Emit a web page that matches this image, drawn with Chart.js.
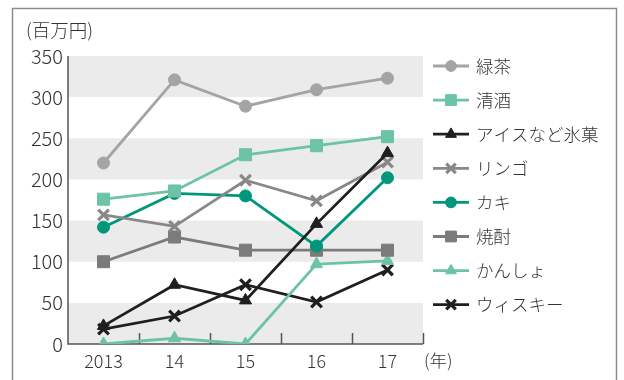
<!DOCTYPE html>
<html>
<head>
<meta charset="utf-8">
<script src="https://cdn.jsdelivr.net/npm/chart.js@4"></script>
<style>
  html, body { margin: 0; padding: 0; background: #fff; }
  #wrap { width: 624px; height: 380px; }
</style>
</head>
<body>
<div id="wrap"><canvas id="salesChart" width="624" height="380"></canvas></div>
<script>
const years = ['2013', '14', '15', '16', '17'];
const yTicks = [0, 50, 100, 150, 200, 250, 300, 350];

const greenTea = [220, 321, 289, 309, 323];
const sake = [176, 186, 230, 241, 252];
const iceCream = [22, 72, 53, 146, 232];
const apple = [157, 143, 199, 174, 221];
const persimmon = [142, 183, 180, 119, 202];
const shochu = [100, 130, 114, 114, 114];
const sweetPotato = [0, 7, 0, 97, 101];
const whisky = [18, 34, 72, 51, 90];

const FONT = '"Noto Sans CJK JP", "Noto Sans", sans-serif';
const TEXT = '#333333';

function series(label, data, color, style, radius) {
    return {
        label: label,
        data: data,
        borderColor: color,
        backgroundColor: color,
        borderWidth: 2.8,
        pointStyle: style,
        pointRadius: radius,
        pointHoverRadius: radius,
        pointBorderWidth: style === 'crossRot' ? 3.2 : 1,
        pointBorderColor: color,
        tension: 0
    };
}

const datasets = [
    series('緑茶', greenTea, '#a4a4a4', 'circle', 6),
    series('清酒', sake, '#6cc3a6', 'rect', 8.5),
    series('アイスなど氷菓', iceCream, '#1f1f1f', 'triangle', 7),
    series('リンゴ', apple, '#888888', 'crossRot', 7.5),
    series('カキ', persimmon, '#00977a', 'circle', 6),
    series('焼酎', shochu, '#7b7b7c', 'rect', 8.5),
    series('かんしょ', sweetPotato, '#6cc3a6', 'triangle', 7),
    series('ウィスキー', whisky, '#1f1f1f', 'crossRot', 7.5)
];

const decor = {
    id: 'decor',
    beforeDatasetsDraw(chart) {
        const ctx = chart.ctx;
        const y = chart.scales.y;
        const area = chart.chartArea;
        ctx.save();
        // frame
        ctx.strokeStyle = '#8c8c8c';
        ctx.lineWidth = 1.5;
        ctx.beginPath();
        ctx.moveTo(12.5, 390);
        ctx.lineTo(12.5, 8.5);
        ctx.lineTo(616.5, 8.5);
        ctx.lineTo(616.5, 390);
        ctx.stroke();
        // bands
        ctx.fillStyle = '#ebebeb';
        for (let i = 0; i < yTicks.length - 1; i += 2) {
            const top = y.getPixelForValue(yTicks[i + 1]);
            const bot = y.getPixelForValue(yTicks[i]);
            ctx.fillRect(area.left, top, area.right - area.left, bot - top);
        }
        // axes
        ctx.strokeStyle = '#555555';
        ctx.lineWidth = 1.5;
        ctx.beginPath();
        ctx.moveTo(area.left, area.top);
        ctx.lineTo(area.left, area.bottom);
        ctx.lineTo(area.right, area.bottom);
        ctx.stroke();
        // inward tick marks between categories
        const step = (area.right - area.left) / years.length;
        ctx.beginPath();
        for (let i = 1; i <= years.length; i++) {
            const px = Math.round(area.left + step * i) + 0.5;
            ctx.moveTo(px, area.bottom);
            ctx.lineTo(px, area.bottom - 11);
        }
        ctx.stroke();
        // texts
        ctx.fillStyle = TEXT;
        ctx.font = '300 18.5px ' + FONT;
        ctx.textBaseline = 'middle';
        ctx.textAlign = 'left';
        ctx.fillText('(百万円)', 26, 30);
        ctx.font = '300 17.5px ' + FONT;
        ctx.fillText('(年)', area.right + 1, 360);
        ctx.restore();
    },
    afterDraw(chart) {
        const ctx = chart.ctx;
        ctx.save();
        chart.data.datasets.forEach((ds, i) => {
            const cy = 66 + i * 34.1;
            ctx.strokeStyle = ds.borderColor;
            ctx.lineWidth = 2.8;
            ctx.beginPath();
            ctx.moveTo(433, cy);
            ctx.lineTo(469, cy);
            ctx.stroke();
            ctx.fillStyle = ds.backgroundColor;
            ctx.lineWidth = ds.pointBorderWidth;
            Chart.helpers.drawPoint(ctx, {
                pointStyle: ds.pointStyle,
                radius: ds.pointRadius * 0.9,
                rotation: 0,
                borderWidth: ds.pointBorderWidth
            }, 451, cy);
            ctx.fillStyle = TEXT;
            ctx.font = '300 17.5px ' + FONT;
            ctx.textAlign = 'left';
            ctx.textBaseline = 'middle';
            ctx.fillText(ds.label, 476, cy);
        });
        ctx.restore();
    }
};

new Chart(document.getElementById('salesChart'), {
    type: 'line',
    data: { labels: years, datasets: datasets },
    options: {
        responsive: false,
        animation: false,
        layout: { padding: { top: 56, right: 201, left: 0, bottom: 0 } },
        plugins: {
            legend: { display: false },
            tooltip: { enabled: false }
        },
        scales: {
            x: {
                offset: true,
                grid: { display: false, drawTicks: false },
                border: { display: false },
                ticks: { color: TEXT, font: { size: 18, weight: '300', family: FONT }, padding: 6 },
                afterFit(scale) { scale.height = 36; }
            },
            y: {
                min: 0,
                max: 350,
                grid: { display: false, drawTicks: false },
                border: { display: false },
                afterBuildTicks(scale) { scale.ticks = yTicks.map(v => ({ value: v })); },
                ticks: { color: TEXT, font: { size: 20, weight: '300', family: FONT }, padding: 5 },
                afterFit(scale) { scale.width = 68; }
            }
        }
    },
    plugins: [decor]
});
</script>
</body>
</html>
